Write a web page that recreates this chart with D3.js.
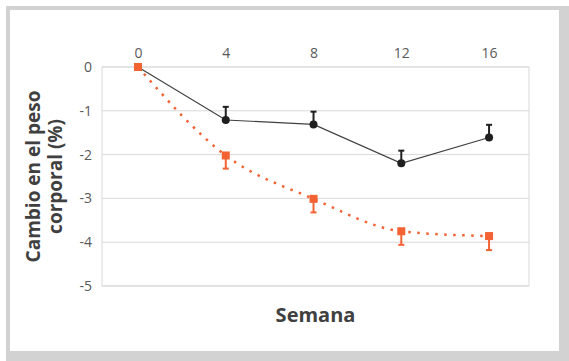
<!DOCTYPE html>
<html>
<head>
<meta charset="utf-8">
<script src="https://cdn.jsdelivr.net/npm/d3@7"></script>
<style>
  body { margin: 0; background: #fff; }
  svg { display: block; font-family: "Open Sans", sans-serif; }
</style>
</head>
<body>
<svg id="chart" width="569" height="361"></svg>
<script>
// weeks and series values
var semanas = [0, 4, 8, 12, 16];
var control = [0, -1.21, -1.31, -2.2, -1.61];
var control_err = [0, 0.3, 0.29, 0.29, 0.29];
var tratado = [0, -2.02, -3.01, -3.75, -3.86];
var tratado_err = [0, 0.3, 0.31, 0.31, 0.32];
var y_ticks = [0, -1, -2, -3, -4, -5];

var svg = d3.select('#chart');

// frame
svg.append('rect')
  .attr('x', 6).attr('y', 6)
  .attr('width', 563).attr('height', 355)
  .attr('fill', '#d2d2d2');
svg.append('rect')
  .attr('x', 10).attr('y', 10)
  .attr('width', 549).attr('height', 341)
  .attr('fill', '#fff');

// plot box (named to avoid window.top)
var P_LEFT = 102, P_RIGHT = 529, P_TOP = 67, P_BOTTOM = 286;

var x = d3.scaleLinear()
  .domain([-1.64, 17.82])
  .range([P_LEFT, P_RIGHT]);

var y = d3.scaleLinear()
  .domain([0, -5])
  .range([P_TOP, P_BOTTOM]);

// grid
svg.append('g')
  .selectAll('line')
  .data(y_ticks)
  .enter().append('line')
  .attr('x1', P_LEFT).attr('x2', P_RIGHT)
  .attr('y1', d => y(d)).attr('y2', d => y(d))
  .attr('stroke', '#d9d9d9')
  .attr('stroke-width', 1);

svg.append('rect')
  .attr('x', P_LEFT).attr('y', P_TOP)
  .attr('width', P_RIGHT - P_LEFT).attr('height', P_BOTTOM - P_TOP)
  .attr('fill', 'none')
  .attr('stroke', '#d9d9d9');

// axes (labels only)
var xAxis = svg.append('g')
  .attr('transform', 'translate(0,' + (P_TOP - 9) + ')')
  .call(d3.axisTop(x).tickValues(semanas).tickSize(0).tickPadding(0));
var yAxis = svg.append('g')
  .attr('transform', 'translate(' + (P_LEFT - 10) + ',0)')
  .call(d3.axisLeft(y).tickValues(y_ticks).tickSize(0).tickPadding(0).tickFormat(d3.format('d')));

[xAxis, yAxis].forEach(function(a){
  a.select('.domain').remove();
  a.selectAll('text')
    .attr('font-family', '"Open Sans", sans-serif')
    .attr('font-size', '14px')
    .attr('fill', '#595959');
});
yAxis.selectAll('text').text(d => d === 0 ? '0' : '-' + Math.abs(d));

var data_c = semanas.map((s, i) => ({s: s, v: control[i], e: control_err[i]}));
var data_t = semanas.map((s, i) => ({s: s, v: tratado[i], e: tratado_err[i]}));

var BLACK = '#1f1f1f';
var ORANGE = '#f26232';

// control series
svg.append('path')
  .datum(data_c)
  .attr('d', d3.line().x(d => x(d.s)).y(d => y(d.v)))
  .attr('fill', 'none')
  .attr('stroke', '#404040')
  .attr('stroke-width', 1.2);

var eb_c = svg.append('g').selectAll('g')
  .data(data_c.filter(d => d.e > 0))
  .enter().append('g');
eb_c.append('line')
  .attr('x1', d => x(d.s)).attr('x2', d => x(d.s))
  .attr('y1', d => y(d.v)).attr('y2', d => y(d.v + d.e))
  .attr('stroke', BLACK).attr('stroke-width', 2);
eb_c.append('line')
  .attr('x1', d => x(d.s) - 3).attr('x2', d => x(d.s) + 3)
  .attr('y1', d => y(d.v + d.e)).attr('y2', d => y(d.v + d.e))
  .attr('stroke', BLACK).attr('stroke-width', 2);

svg.append('g').selectAll('circle')
  .data(data_c.filter(d => d.s > 0))
  .enter().append('circle')
  .attr('cx', d => x(d.s)).attr('cy', d => y(d.v))
  .attr('r', 4)
  .attr('fill', BLACK);

// treated series
svg.append('path')
  .datum(data_t)
  .attr('d', d3.line().x(d => x(d.s)).y(d => y(d.v)).curve(d3.curveMonotoneX))
  .attr('fill', 'none')
  .attr('stroke', ORANGE)
  .attr('stroke-width', 2.5)
  .attr('stroke-dasharray', '2.5,6.5');

var eb_t = svg.append('g').selectAll('g')
  .data(data_t.filter(d => d.e > 0))
  .enter().append('g');
eb_t.append('line')
  .attr('x1', d => x(d.s)).attr('x2', d => x(d.s))
  .attr('y1', d => y(d.v)).attr('y2', d => y(d.v - d.e))
  .attr('stroke', ORANGE).attr('stroke-width', 2);
eb_t.append('line')
  .attr('x1', d => x(d.s) - 3).attr('x2', d => x(d.s) + 3)
  .attr('y1', d => y(d.v - d.e)).attr('y2', d => y(d.v - d.e))
  .attr('stroke', ORANGE).attr('stroke-width', 2);

svg.append('g').selectAll('rect')
  .data(data_t)
  .enter().append('rect')
  .attr('x', d => x(d.s) - 4).attr('y', d => y(d.v) - 4)
  .attr('width', 8).attr('height', 8)
  .attr('fill', ORANGE);

// titles
svg.append('text')
  .attr('x', (P_LEFT + P_RIGHT) / 2)
  .attr('y', 322)
  .attr('text-anchor', 'middle')
  .attr('font-size', '20px')
  .attr('font-weight', 'bold')
  .attr('fill', '#404040')
  .text('Semana');

var yt = svg.append('text')
  .attr('transform', 'translate(40,' + ((P_TOP + P_BOTTOM) / 2) + ') rotate(-90)')
  .attr('text-anchor', 'middle')
  .attr('font-size', '19px')
  .attr('font-weight', 'bold')
  .attr('fill', '#404040');
yt.append('tspan').attr('x', 0).attr('y', 0).text('Cambio en el peso');
yt.append('tspan').attr('x', 0).attr('y', 22).text('corporal (%)');
</script>
</body>
</html>
